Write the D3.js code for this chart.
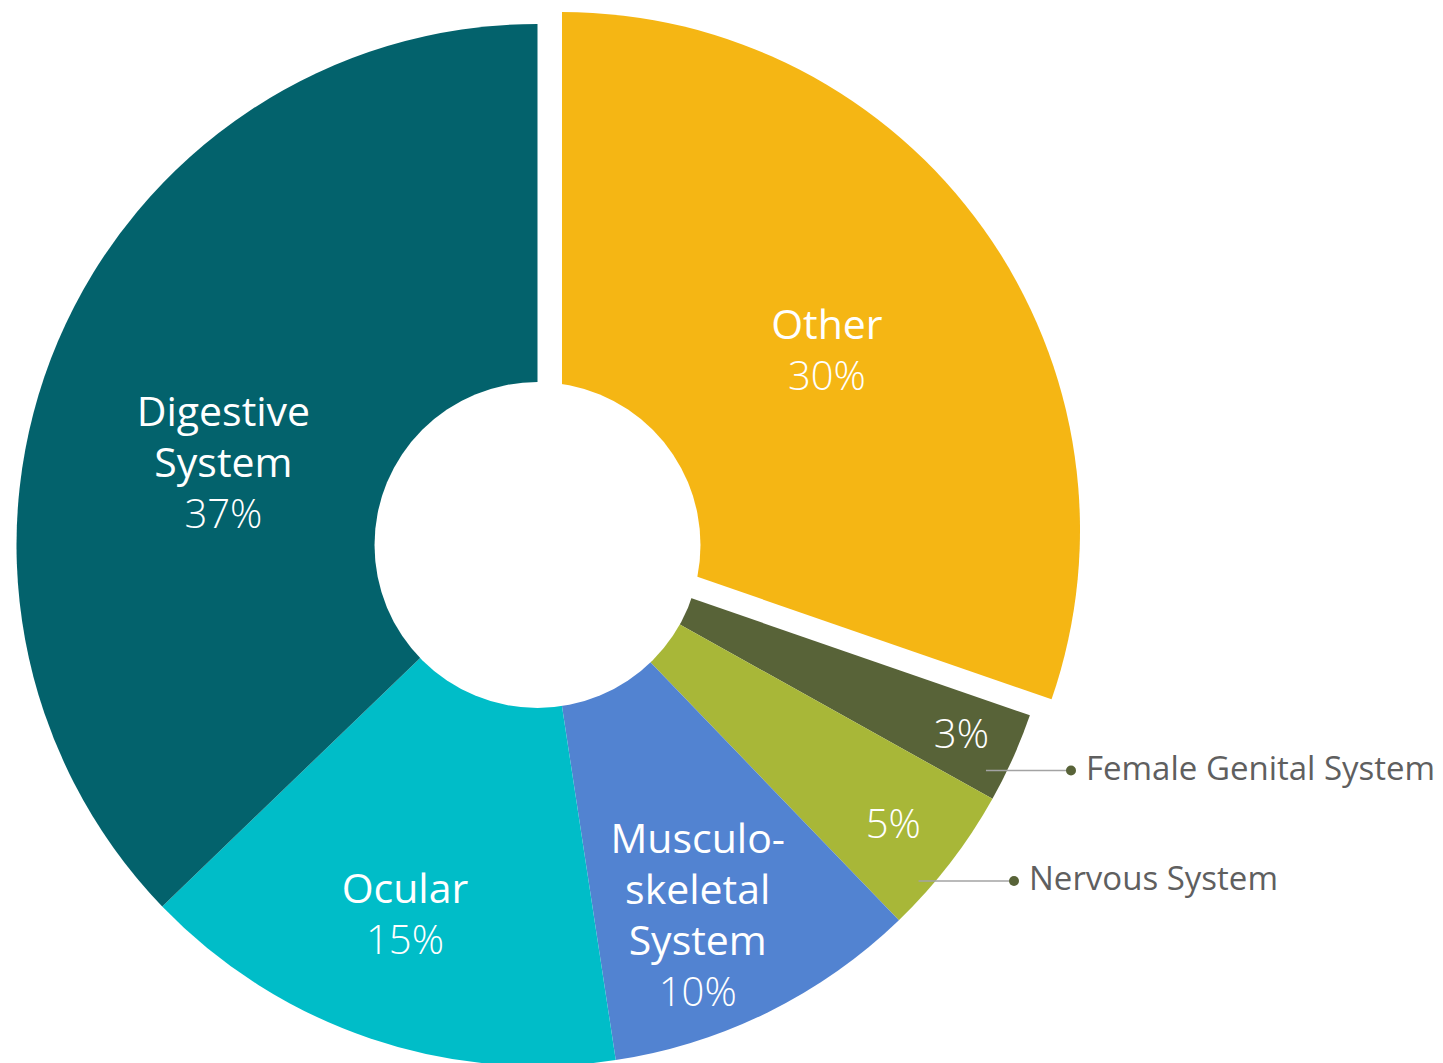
<!DOCTYPE html>
<html>
<head>
<meta charset="utf-8">
<script src="https://cdn.jsdelivr.net/npm/d3@7"></script>
<style>
  html, body { margin: 0; padding: 0; background: #ffffff; }
  svg { display: block; }
  text { font-family: "Open Sans", "Noto Sans", sans-serif; }
</style>
</head>
<body>
<script>
// ---- data ----
const categories = ["Other", "Female Genital System", "Nervous System", "Musculoskeletal System", "Ocular", "Digestive System"];
const values = [30.3, 2.8, 4.7, 9.8, 15.2, 37.2];
const percentLabels = ["30%", "3%", "5%", "10%", "15%", "37%"];
const nameLines = [["Other"], [], [], ["Musculo-", "skeletal", "System"], ["Ocular"], ["Digestive", "System"]];
const colors = ["#F5B614", "#586338", "#A8B738", "#5283D1", "#00BDC8", "#03626C"];
const legendItems = ["Female Genital System", "Nervous System"];

// ---- layout ----
const W = 1443, H = 1063;
const cx = 537.5, cy = 545;
const outerR = 521, holeR = 163;
const explodeIndex = 0, explodeR = 518, explodeShift = [24.5, -15];
// label anchor (first baseline) in polar form: [angle deg, radius]
const labelPolar = [[54.6, 355], [115.6, 470], [129.5, 461], [152.5, 347], [200.3, 382], [290.8, 336]];
const lineGap = 51;
// leader lines: [start angle deg, start radius, dot x]
const leaderSpec = [[116.7, 502, 1071], [131.4, 508, 1014]];

const svg = d3.select("body").append("svg").attr("width", W).attr("height", H);
const g = svg.append("g").attr("transform", `translate(${cx},${cy})`);

const pie = d3.pie().sort(null).value(d => d).startAngle(0).endAngle(2 * Math.PI);
const arcs = pie(values);
const arc = d3.arc().innerRadius(0).outerRadius(outerR);
const arcExp = d3.arc().innerRadius(0).outerRadius(explodeR);

g.selectAll("path.slice")
  .data(arcs)
  .enter().append("path")
  .attr("class", "slice")
  .attr("d", (d, i) => i === explodeIndex ? arcExp(d) : arc(d))
  .attr("transform", (d, i) => i === explodeIndex ? `translate(${explodeShift[0]},${explodeShift[1]})` : null)
  .attr("fill", (d, i) => colors[i]);

// donut hole
g.append("circle").attr("r", holeR).attr("fill", "#ffffff");

// labels inside slices
const rad = a => a * Math.PI / 180;
arcs.forEach((d, i) => {
  const [ang, r] = labelPolar[i];
  const p = d3.pointRadial(rad(ang), r);
  const lines = nameLines[i];
  const t = g.append("text")
    .attr("text-anchor", "middle")
    .attr("fill", "#ffffff");
  lines.forEach((ln, k) => {
    t.append("tspan")
      .attr("x", p[0]).attr("y", p[1] + k * lineGap)
      .attr("font-size", 41).attr("font-weight", 400)
      .text(ln);
  });
  t.append("tspan")
    .attr("x", p[0]).attr("y", p[1] + lines.length * lineGap)
    .attr("font-size", 40).attr("font-weight", 300)
    .text(percentLabels[i]);
});

// leader lines + legend texts for small slices
legendItems.forEach((name, j) => {
  const [ang, r, dotX] = leaderSpec[j];
  const s = d3.pointRadial(rad(ang), r);
  const x0 = cx + s[0], y0 = cy + s[1];
  svg.append("line")
    .attr("x1", x0).attr("y1", y0).attr("x2", dotX).attr("y2", y0)
    .attr("stroke", "#a3a3a3").attr("stroke-width", 1.6);
  svg.append("circle")
    .attr("cx", dotX).attr("cy", y0).attr("r", 5)
    .attr("fill", colors[1]);
  svg.append("text")
    .attr("x", dotX + 15).attr("y", y0 + 9.5)
    .attr("font-size", 33).attr("fill", "#5f5f5f")
    .text(name);
});
</script>
</body>
</html>
